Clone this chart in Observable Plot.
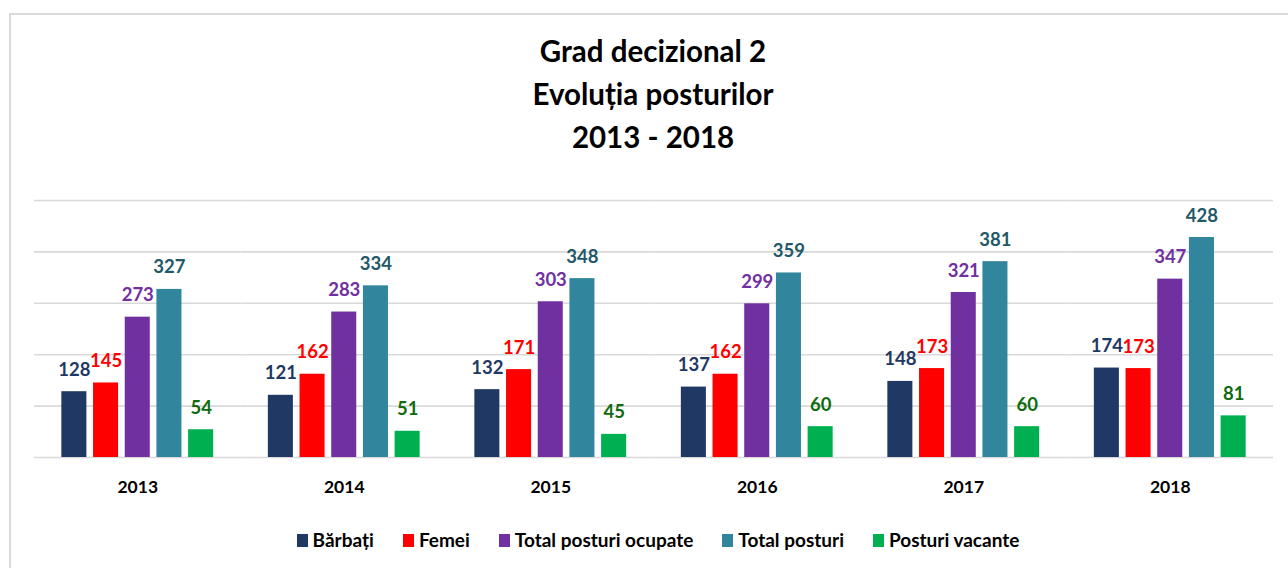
<!DOCTYPE html>
<html>
<head>
<meta charset="utf-8">
<script src="https://cdn.jsdelivr.net/npm/d3@7"></script>
<script src="https://cdn.jsdelivr.net/npm/@observablehq/plot@0.6"></script>
<style>
  html, body { margin: 0; padding: 0; background: #fff; width: 1288px; height: 568px; overflow: hidden; }
  body { position: relative; font-family: Lato, "Open Sans", sans-serif; font-weight: bold; }
  #frame { position: absolute; left: 9px; top: 13px; width: 1320px; height: 620px; border: 2px solid #d9d9d9; box-sizing: border-box; z-index: 2; pointer-events: none; }
  #title { position: absolute; left: 0; top: 29px; width: 1306px; text-align: center; font-size: 29.5px; line-height: 43px; color: #000; }
  #chart { position: absolute; left: 0; top: 170px; }
  #legend { position: absolute; left: 0; top: 529px; width: 1316px; display: flex; justify-content: center; gap: 29px; font-size: 19px; line-height: 22px; color: #000; }
  #legend .item { display: flex; align-items: center; gap: 5px; }
  #legend .sw { width: 11px; height: 13px; display: inline-block; }
</style>
</head>
<body>
<div id="frame"></div>
<div id="title">Grad decizional 2<br>Evoluția posturilor<br>2013 - 2018</div>
<div id="chart"></div>
<div id="legend"></div>
<script>
const years = ["2013", "2014", "2015", "2016", "2017", "2018"];
const series = ["Bărbați", "Femei", "Total posturi ocupate", "Total posturi", "Posturi vacante"];
const barbati = [128, 121, 132, 137, 148, 174];
const femei = [145, 162, 171, 162, 173, 173];
const ocupate = [273, 283, 303, 299, 321, 347];
const totalPosturi = [327, 334, 348, 359, 381, 428];
const vacante = [54, 51, 45, 60, 60, 81];
const gridTicks = [0, 100, 200, 300, 400, 500];

const barColors = ["#1f3864", "#ff0000", "#7030a0", "#31859c", "#00b050"];
const labelColors = ["#1f3864", "#ff0000", "#7030a0", "#215968", "#0f6b0f"];

const values = [barbati, femei, ocupate, totalPosturi, vacante];
const rows = years.flatMap((yr, i) => series.map((s, j) => ({year: yr, series: s, value: values[j][i]})));

const labelMarks = series.map((s, j) =>
  Plot.text(rows.filter(d => d.series === s), {
    fx: "year", x: "series", y: "value", text: d => String(d.value),
    fill: labelColors[j], fontSize: 18.5, fontWeight: "bold", lineAnchor: "bottom", dy: -16
  })
);

const chart = Plot.plot({
  width: 1288,
  height: 337,
  marginLeft: 34,
  marginRight: 15,
  marginTop: 30,
  marginBottom: 50,
  style: {background: "transparent", fontFamily: "Lato, 'Open Sans', sans-serif", fontSize: "17.5px", fontWeight: "bold", color: "#000"},
  fx: {domain: years, padding: 0, round: false, label: null, tickSize: 0, tickPadding: 23},
  x: {domain: series, paddingInner: 0.21, paddingOuter: 0.863, round: false, axis: null},
  y: {domain: [0, 500], axis: null},
  color: {domain: series, range: barColors},
  marks: [
    Plot.ruleY(gridTicks, {stroke: "#d9d9d9", strokeWidth: 1.6}),
    Plot.barY(rows, {fx: "year", x: "series", y: "value", fill: "series"}),
    ...labelMarks
  ]
});
document.getElementById("chart").appendChild(chart);

const legend = document.getElementById("legend");
series.forEach((s, j) => {
  const item = document.createElement("span");
  item.className = "item";
  const sw = document.createElement("span");
  sw.className = "sw";
  sw.style.background = barColors[j];
  const t = document.createElement("span");
  t.textContent = s;
  item.appendChild(sw);
  item.appendChild(t);
  legend.appendChild(item);
});
</script>
</body>
</html>
